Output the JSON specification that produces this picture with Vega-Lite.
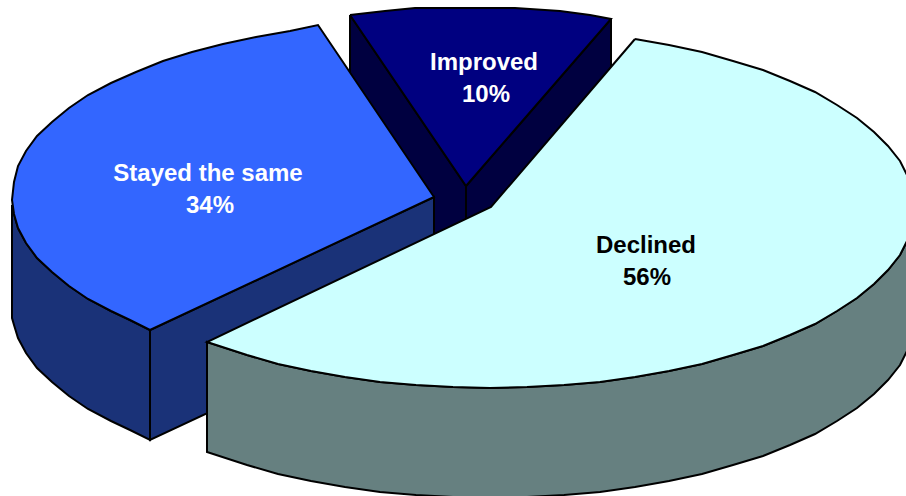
{
"$schema":"https://vega.github.io/schema/vega-lite/v6.json",
"width":906,"height":496,
"autosize":{"type":"fit","contains":"padding"},
"padding":0,
"background":"white",
"view":{"stroke":null},
"config":{"view":{"stroke":null}},
"layer":[
{"data":{"values":[
{"part":"imp_left","n":0,"x":350,"y":15},{"part":"imp_left","n":1,"x":466,"y":186},{"part":"imp_left","n":2,"x":466,"y":296},{"part":"imp_left","n":3,"x":350,"y":125},{"part":"imp_left","n":4,"x":350,"y":15},
{"part":"imp_right","n":0,"x":611,"y":19},{"part":"imp_right","n":1,"x":466,"y":186},{"part":"imp_right","n":2,"x":466,"y":296},{"part":"imp_right","n":3,"x":611,"y":129},{"part":"imp_right","n":4,"x":611,"y":19},
{"part":"imp_top","n":0,"x":350,"y":15},{"part":"imp_top","n":1,"x":385,"y":11},{"part":"imp_top","n":2,"x":415,"y":8},{"part":"imp_top","n":3,"x":450,"y":8},{"part":"imp_top","n":4,"x":515,"y":8},{"part":"imp_top","n":5,"x":560,"y":11},{"part":"imp_top","n":6,"x":590,"y":15},{"part":"imp_top","n":7,"x":611,"y":19},{"part":"imp_top","n":8,"x":466,"y":186},{"part":"imp_top","n":9,"x":350,"y":15},

{"part":"stay_side","n":0,"x":150,"y":330},{"part":"stay_side","n":1,"x":130,"y":320},{"part":"stay_side","n":2,"x":111,"y":311},{"part":"stay_side","n":3,"x":88,"y":299},{"part":"stay_side","n":4,"x":69,"y":286},{"part":"stay_side","n":5,"x":52,"y":272},{"part":"stay_side","n":6,"x":37,"y":258},{"part":"stay_side","n":7,"x":26,"y":243},{"part":"stay_side","n":8,"x":18,"y":228},{"part":"stay_side","n":9,"x":14,"y":214},{"part":"stay_side","n":10,"x":12,"y":205},{"part":"stay_side","n":11,"x":12,"y":318},{"part":"stay_side","n":12,"x":14,"y":325},{"part":"stay_side","n":13,"x":18,"y":338},{"part":"stay_side","n":14,"x":26,"y":353},{"part":"stay_side","n":15,"x":37,"y":368},{"part":"stay_side","n":16,"x":52,"y":382},{"part":"stay_side","n":17,"x":69,"y":396},{"part":"stay_side","n":18,"x":88,"y":409},{"part":"stay_side","n":19,"x":111,"y":421},{"part":"stay_side","n":20,"x":130,"y":430},{"part":"stay_side","n":21,"x":150,"y":440},{"part":"stay_side","n":22,"x":150,"y":330},

{"part":"stay_cut","n":0,"x":150,"y":330},{"part":"stay_cut","n":1,"x":434,"y":197},{"part":"stay_cut","n":2,"x":434,"y":307},{"part":"stay_cut","n":3,"x":150,"y":440},{"part":"stay_cut","n":4,"x":150,"y":330},

{"part":"stay_top","n":0,"x":150,"y":330},{"part":"stay_top","n":1,"x":130,"y":320},{"part":"stay_top","n":2,"x":111,"y":311},{"part":"stay_top","n":3,"x":88,"y":299},{"part":"stay_top","n":4,"x":69,"y":286},{"part":"stay_top","n":5,"x":52,"y":272},{"part":"stay_top","n":6,"x":37,"y":258},{"part":"stay_top","n":7,"x":26,"y":243},{"part":"stay_top","n":8,"x":18,"y":228},{"part":"stay_top","n":9,"x":14,"y":214},{"part":"stay_top","n":10,"x":12,"y":200},{"part":"stay_top","n":11,"x":14,"y":182},{"part":"stay_top","n":12,"x":18,"y":166},{"part":"stay_top","n":13,"x":26,"y":151},{"part":"stay_top","n":14,"x":37,"y":136},{"part":"stay_top","n":15,"x":52,"y":122},{"part":"stay_top","n":16,"x":69,"y":108},{"part":"stay_top","n":17,"x":88,"y":95},{"part":"stay_top","n":18,"x":111,"y":83},{"part":"stay_top","n":19,"x":136,"y":72},{"part":"stay_top","n":20,"x":163,"y":61},{"part":"stay_top","n":21,"x":192,"y":52},{"part":"stay_top","n":22,"x":223,"y":44},{"part":"stay_top","n":23,"x":256,"y":37},{"part":"stay_top","n":24,"x":290,"y":31},{"part":"stay_top","n":25,"x":318,"y":25},{"part":"stay_top","n":26,"x":434,"y":197},{"part":"stay_top","n":27,"x":150,"y":330},

{"part":"dec_side","n":0,"x":914,"y":208},{"part":"dec_side","n":1,"x":912,"y":224},{"part":"dec_side","n":2,"x":908,"y":239},{"part":"dec_side","n":3,"x":900,"y":255},{"part":"dec_side","n":4,"x":888,"y":270},{"part":"dec_side","n":5,"x":874,"y":284},{"part":"dec_side","n":6,"x":857,"y":298},{"part":"dec_side","n":7,"x":837,"y":311},{"part":"dec_side","n":8,"x":815,"y":324},{"part":"dec_side","n":9,"x":790,"y":335},{"part":"dec_side","n":10,"x":763,"y":346},{"part":"dec_side","n":11,"x":733,"y":355},{"part":"dec_side","n":12,"x":702,"y":364},{"part":"dec_side","n":13,"x":669,"y":371},{"part":"dec_side","n":14,"x":635,"y":377},{"part":"dec_side","n":15,"x":600,"y":382},{"part":"dec_side","n":16,"x":564,"y":385},{"part":"dec_side","n":17,"x":527,"y":387},{"part":"dec_side","n":18,"x":490,"y":388},{"part":"dec_side","n":19,"x":453,"y":387},{"part":"dec_side","n":20,"x":416,"y":385},{"part":"dec_side","n":21,"x":380,"y":382},{"part":"dec_side","n":22,"x":345,"y":377},{"part":"dec_side","n":23,"x":311,"y":371},{"part":"dec_side","n":24,"x":278,"y":364},{"part":"dec_side","n":25,"x":247,"y":355},{"part":"dec_side","n":26,"x":207,"y":342},{"part":"dec_side","n":27,"x":207,"y":452},{"part":"dec_side","n":28,"x":247,"y":465},{"part":"dec_side","n":29,"x":278,"y":474},{"part":"dec_side","n":30,"x":311,"y":481},{"part":"dec_side","n":31,"x":345,"y":487},{"part":"dec_side","n":32,"x":380,"y":492},{"part":"dec_side","n":33,"x":416,"y":495},{"part":"dec_side","n":34,"x":453,"y":497},{"part":"dec_side","n":35,"x":490,"y":498},{"part":"dec_side","n":36,"x":527,"y":497},{"part":"dec_side","n":37,"x":564,"y":495},{"part":"dec_side","n":38,"x":600,"y":492},{"part":"dec_side","n":39,"x":635,"y":487},{"part":"dec_side","n":40,"x":669,"y":481},{"part":"dec_side","n":41,"x":702,"y":474},{"part":"dec_side","n":42,"x":733,"y":465},{"part":"dec_side","n":43,"x":763,"y":456},{"part":"dec_side","n":44,"x":790,"y":445},{"part":"dec_side","n":45,"x":815,"y":434},{"part":"dec_side","n":46,"x":837,"y":421},{"part":"dec_side","n":47,"x":857,"y":408},{"part":"dec_side","n":48,"x":874,"y":394},{"part":"dec_side","n":49,"x":888,"y":380},{"part":"dec_side","n":50,"x":900,"y":365},{"part":"dec_side","n":51,"x":908,"y":349},{"part":"dec_side","n":52,"x":912,"y":334},{"part":"dec_side","n":53,"x":914,"y":318},{"part":"dec_side","n":54,"x":914,"y":208},

{"part":"dec_top","n":0,"x":635,"y":39},{"part":"dec_top","n":1,"x":669,"y":45},{"part":"dec_top","n":2,"x":702,"y":52},{"part":"dec_top","n":3,"x":733,"y":61},{"part":"dec_top","n":4,"x":763,"y":70},{"part":"dec_top","n":5,"x":790,"y":81},{"part":"dec_top","n":6,"x":815,"y":92},{"part":"dec_top","n":7,"x":837,"y":105},{"part":"dec_top","n":8,"x":857,"y":118},{"part":"dec_top","n":9,"x":874,"y":132},{"part":"dec_top","n":10,"x":888,"y":146},{"part":"dec_top","n":11,"x":900,"y":161},{"part":"dec_top","n":12,"x":908,"y":177},{"part":"dec_top","n":13,"x":912,"y":192},{"part":"dec_top","n":14,"x":914,"y":208},{"part":"dec_top","n":15,"x":912,"y":224},{"part":"dec_top","n":16,"x":908,"y":239},{"part":"dec_top","n":17,"x":900,"y":255},{"part":"dec_top","n":18,"x":888,"y":270},{"part":"dec_top","n":19,"x":874,"y":284},{"part":"dec_top","n":20,"x":857,"y":298},{"part":"dec_top","n":21,"x":837,"y":311},{"part":"dec_top","n":22,"x":815,"y":324},{"part":"dec_top","n":23,"x":790,"y":335},{"part":"dec_top","n":24,"x":763,"y":346},{"part":"dec_top","n":25,"x":733,"y":355},{"part":"dec_top","n":26,"x":702,"y":364},{"part":"dec_top","n":27,"x":669,"y":371},{"part":"dec_top","n":28,"x":635,"y":377},{"part":"dec_top","n":29,"x":600,"y":382},{"part":"dec_top","n":30,"x":564,"y":385},{"part":"dec_top","n":31,"x":527,"y":387},{"part":"dec_top","n":32,"x":490,"y":388},{"part":"dec_top","n":33,"x":453,"y":387},{"part":"dec_top","n":34,"x":416,"y":385},{"part":"dec_top","n":35,"x":380,"y":382},{"part":"dec_top","n":36,"x":345,"y":377},{"part":"dec_top","n":37,"x":311,"y":371},{"part":"dec_top","n":38,"x":278,"y":364},{"part":"dec_top","n":39,"x":247,"y":355},{"part":"dec_top","n":40,"x":207,"y":342},{"part":"dec_top","n":41,"x":491,"y":207},{"part":"dec_top","n":42,"x":635,"y":39}
]},
"mark":{"type":"line","stroke":"black","strokeWidth":2,"strokeJoin":"miter","clip":true,"interpolate":"linear"},
"encoding":{
"x":{"field":"x","type":"quantitative","scale":{"domain":[0,906],"nice":false,"zero":false},"axis":null},
"y":{"field":"y","type":"quantitative","scale":{"domain":[496,0],"nice":false,"zero":false},"axis":null},
"order":{"field":"n","type":"quantitative"},
"detail":{"field":"part","type":"nominal"},
"fill":{"field":"part","type":"nominal","legend":null,"scale":{"domain":["imp_left","imp_right","imp_top","stay_side","stay_cut","stay_top","dec_side","dec_top"],"range":["#000040","#000040","#000080","#1A3278","#1A3278","#3366FF","#668080","#CCFFFF"]}}
}},
{"data":{"values":[
{"text":"Improved","x":484,"y":63,"tone":"light"},{"text":"10%","x":486,"y":95,"tone":"light"},
{"text":"Stayed the same","x":208,"y":174,"tone":"light"},{"text":"34%","x":210,"y":206,"tone":"light"},
{"text":"Declined","x":646,"y":246,"tone":"dark"},{"text":"56%","x":647,"y":278,"tone":"dark"}
]},
"mark":{"type":"text","font":"Liberation Sans","fontWeight":"bold","fontSize":24,"align":"center","baseline":"middle"},
"encoding":{
"x":{"field":"x","type":"quantitative","scale":{"domain":[0,906],"nice":false,"zero":false},"axis":null},
"y":{"field":"y","type":"quantitative","scale":{"domain":[496,0],"nice":false,"zero":false},"axis":null},
"text":{"field":"text","type":"nominal"},
"color":{"field":"tone","type":"nominal","legend":null,"scale":{"domain":["light","dark"],"range":["#FFFFFF","#000000"]}}
}}
]
}
